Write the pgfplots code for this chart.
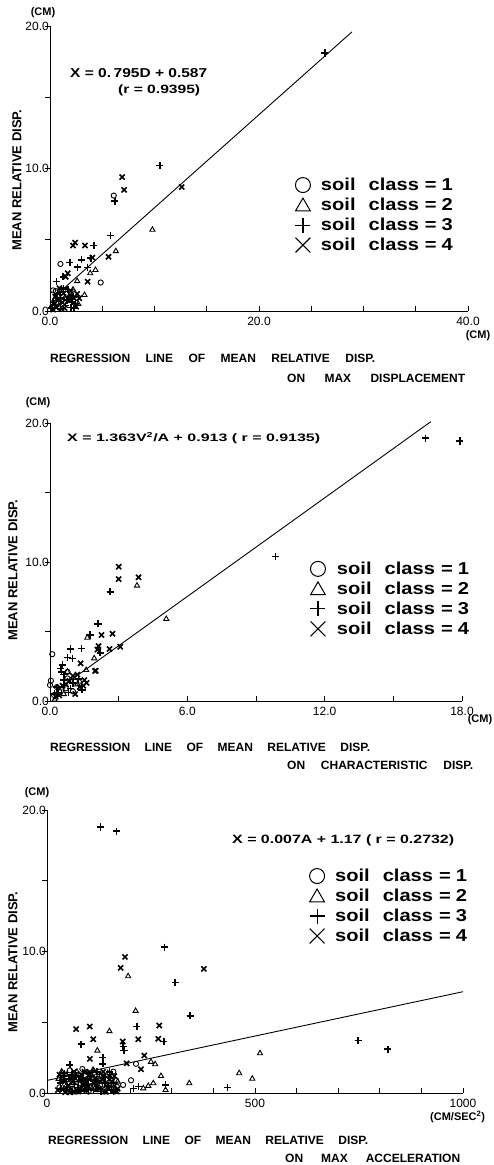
\documentclass[border=0pt]{standalone}
\usepackage{pgfplots}
\pgfplotsset{compat=1.18}
\usepackage{fontspec}
\setmainfont{Liberation Sans}

\pgfplotsset{
  soil/.style={
    scale only axis,
    axis lines=left,
    axis line style={-, line width=1pt},
    xtick align=inside, ytick align=outside,
    major tick length=5pt, minor tick length=5pt,
    every tick/.style={black, line width=0.8pt},
    ymin=0, ymax=20,
    ytick={0,10,20}, yticklabels={0.0,10.0,20.0},
    minor ytick={5,15},
    ticklabel style={font=\fontsize{12}{12}\selectfont},
    xticklabel style={inner sep=0pt, text height=8.6pt, text depth=0pt, anchor=north, yshift=-6pt},
    yticklabel style={inner sep=0pt, anchor=east, xshift=4pt},
    clip=false,
    legend cell align=left,
    legend style={draw=none, fill=none, inner sep=0pt, outer sep=0pt, anchor=north west,
      font=\bfseries\fontsize{18}{18}\selectfont, row sep=4pt,
      nodes={inner sep=0pt}},
  },
  c1/.style={only marks, black, mark=o, mark size=2.6pt, line width=0.9pt,
    legend image code/.code={\path[draw=none, fill=none] (-8pt,-8pt) rectangle (8pt,8pt);
      \draw[black, line width=1pt] plot[mark=o, mark size=7.5pt] coordinates {(0pt,0pt)};}},
  c2/.style={only marks, black, mark=triangle, mark size=3pt, line width=0.9pt,
    legend image code/.code={\path[draw=none, fill=none] (-8pt,-8pt) rectangle (8pt,8pt);
      \draw[black, line width=1pt] plot[mark=triangle, mark size=8.5pt] coordinates {(0pt,-1.5pt)};}},
  c3/.style={only marks, black, mark=+, mark size=3.6pt, line width=1.6pt,
    legend image code/.code={\path[draw=none, fill=none] (-8pt,-8pt) rectangle (8pt,8pt);
      \draw[black, line width=1.1pt] plot[mark=+, mark size=7.5pt] coordinates {(0pt,0pt)};}},
  c4/.style={only marks, black, mark=x, mark size=3.6pt, line width=1.6pt,
    legend image code/.code={\path[draw=none, fill=none] (-8pt,-8pt) rectangle (8pt,8pt);
      \draw[black, line width=1.1pt] plot[mark=x, mark size=10.5pt] coordinates {(0pt,0pt)};}},
  reg/.style={black, line width=0.9pt, forget plot},
}

\newcommand{\soilentry}[1]{\resizebox{132pt}{12.5pt}{soil\hspace{0.65em}class\hspace{0.3em}=\hspace{0.25em}#1}}

\begin{document}
\begin{tikzpicture}
\useasboundingbox (0pt,0pt) rectangle (494pt,-1165pt);

% ---------------- panel 1 ----------------
\begin{axis}[soil, at={(50pt,-311pt)}, anchor=south west, width=418pt, height=285pt,
  xmin=0, xmax=40, xtick={0,20,40}, xticklabels={0.0,20.0,40.0},
  minor xtick={5,10,15,25,30,35},
  legend style={at={(0.586,0.470)}, column sep=10pt}]
\addplot[reg] coordinates {(0.29,0.91) (28.9,19.59)};
\addplot[c1] coordinates {
 (1.0,3.3) (4.85,2.0) (6.1,8.1) (0.3,1.45) (0.55,1.4) (1.2,1.0) (0.8,0.5) (1.6,1.2) (0.2,0.3)
 (0.6,0.6) (1.9,1.0)};
\addplot[c2] coordinates {
 (9.8,5.7) (6.3,4.2) (3.85,2.65) (4.35,2.88) (2.6,2.1) (3.3,1.12) (1.9,0.7) (2.7,0.5) (0.9,0.3)
 (1.4,0.9) (0.4,0.8) (1.1,0.1) (2.2,1.5)};
\addplot[c3] coordinates {
 (26.3,18.1) (10.5,10.2) (6.2,7.7) (5.8,5.3) (4.2,4.6) (1.9,3.4) (3.0,3.6) (2.65,3.07) (0.64,2.06)
 (1.27,2.4) (3.9,3.7) (3.57,3.05) (0.3,0.6) (1.0,0.9) (1.5,0.4) (2.0,0.25) (0.7,1.2) (1.3,1.6)
 (2.2,1.0) (0.2,0.2) (2.1,0.65) (2.45,0.54) (1.0,0.15)
 (0.5,0.4) (1.6,0.75) (2.3,0.2) (0.9,1.3) (1.7,1.5)};
\addplot[c4] coordinates {
 (6.9,9.4) (7.1,8.5) (12.6,8.7) (5.6,3.8) (2.2,4.6) (2.4,4.8) (3.35,4.6) (4.05,3.75) (3.6,2.06)
 (1.7,2.65) (1.5,2.4) (2.0,1.4) (2.6,1.2) (1.2,0.6) (0.5,1.0) (1.8,0.8) (2.8,0.9) (0.9,1.6)
 (1.98,1.12) (2.3,0.89) (0.6,0.25)
 (0.3,0.1) (1.4,0.2) (2.5,0.3) (0.8,0.85) (1.3,1.25)};
\addlegendentry{\soilentry{1}}
\addlegendentry{\soilentry{2}}
\addlegendentry{\soilentry{3}}
\addlegendentry{\soilentry{4}}
\end{axis}

% ---------------- panel 2 ----------------
\begin{axis}[soil, at={(50pt,-701pt)}, anchor=south west, width=412pt, height=278pt,
  xmin=0, xmax=18, xtick={0,6,12,18}, xticklabels={0.0,6.0,12.0,18.0},
  minor xtick={3,9,15},
  legend style={at={(0.631,0.504)}, column sep=11pt}]
\addplot[reg] coordinates {(0.4,0.9) (16.64,20.1)};
\addplot[c1] coordinates {
 (0.1,3.37) (0.04,1.46) (0.76,1.63) (0.69,0.91) (0.18,0.43) (0.0,1.15) (0.4,0.7) (1.1,1.4) (0.77,2.1)
 (0.3,1.0) (1.0,0.7)};
\addplot[c2] coordinates {
 (5.08,5.9) (3.8,8.3) (1.58,2.23) (1.63,4.55) (1.93,3.07) (0.76,2.1) (0.2,0.1) (0.5,0.9) (1.2,1.2)
 (0.6,0.5) (1.3,1.4)};
\addplot[c3] coordinates {
 (16.4,18.9) (17.9,18.7) (9.86,10.4) (2.63,7.86) (2.1,5.55) (1.75,4.75) (0.9,3.74) (1.37,3.79)
 (0.76,3.14) (0.98,3.07) (0.54,2.59) (0.47,2.35) (0.51,2.1) (2.19,3.47) (0.3,1.0) (0.6,1.5)
 (1.0,1.3) (0.2,0.5) (0.8,0.6)
 (0.35,0.6) (0.9,0.9) (1.25,1.6) (0.6,1.9) (1.4,0.8)};
\addplot[c4] coordinates {
 (3.0,9.66) (3.0,8.77) (3.87,8.9) (2.25,4.75) (2.73,4.84) (3.07,3.9) (2.6,3.74) (2.07,3.7)
 (2.12,3.95) (1.97,2.16) (1.34,2.71) (2.0,2.18) (1.0,1.8) (1.3,1.0) (0.7,1.2) (1.5,1.5)
 (0.4,0.4) (1.1,0.5) (1.6,1.3)
 (0.25,0.3) (0.85,1.45) (1.2,1.9) (0.55,1.1) (1.45,1.1)};
\addlegendentry{\soilentry{1}}
\addlegendentry{\soilentry{2}}
\addlegendentry{\soilentry{3}}
\addlegendentry{\soilentry{4}}
\end{axis}

% ---------------- panel 3 ----------------
\begin{axis}[soil, at={(47pt,-1093pt)}, anchor=south west, width=416pt, height=283pt,
  xmin=0, xmax=1000, xtick={0,500,1000}, xticklabels={0,500,1000},
  minor xtick={100,200,300,400,600,700,800,900},
  legend style={at={(0.630,0.795)}, column sep=10pt}]
\addplot[reg] coordinates {(0,0.89) (1000,7.16)};
\addplot[c1] coordinates {
 (214,2.06) (202,0.9) (183,0.57) (159.5,1.51) (159.5,0.57) (120,1.2) (90,0.8) (60,0.6) (140,0.3)
 (105,0.4) (75,1.3) (130,0.9) (45,0.2)
 (30,0.4) (48,1.1) (62,0.3) (78,0.7) (92,1.2) (108,0.5) (124,1.0) (138,0.2) (150,0.6) (166,0.9)
 (55,1.6) (100,0.1) (85,1.7)
 (36,0.9) (70,1.0) (96,0.4) (115,1.3) (142,1.0) (58,0.1) (82,0.25) (128,0.55) (156,1.2) (44,0.6)
 (104,0.8) (168,0.45)};
\addplot[c2] coordinates {
 (213,5.8) (195,8.25) (150,4.37) (121,3.0) (250,2.2) (260,2.03) (274,1.2) (512,2.81) (462,1.4)
 (493.5,1.01) (342,0.69) (231.5,0.33) (243.5,0.5) (255.5,0.69) (285,0.21) (37,1.44) (110,1.6)
 (80,1.0) (150,0.8) (65,0.3)
 (28,1.0) (42,0.3) (58,0.9) (72,1.5) (88,0.4) (102,1.1) (118,0.2) (132,0.8) (146,1.4) (160,0.4)
 (35,1.5) (68,0.05) (112,1.6)
 (50,0.1) (64,0.7) (92,0.9) (126,0.35) (140,0.05) (154,1.0) (78,1.25) (108,0.3) (46,1.3) (170,0.8)
 (98,1.45) (60,1.1)};
\addplot[c3] coordinates {
 (129,18.8) (167.5,18.5) (282,10.3) (308,7.82) (344,5.46) (216,4.7) (82,3.45) (183,3.28) (185,3.0)
 (281,3.64) (134,2.5) (134,2.06) (55,1.99) (748,3.71) (819,3.1) (434,0.38) (207.5,0.33) (219.5,0.45)
 (285,0.57) (159.5,0.09) (70,1.2) (95,0.5) (120,0.7) (45,0.8) (100,1.4) (140,1.1) (60,0.1)
 (32,0.7) (46,0.2) (60,1.3) (74,0.4) (86,1.0) (98,0.6) (112,0.2) (126,1.3) (140,0.7) (155,0.2)
 (40,1.2) (80,0.15) (120,1.5)
 (34,0.3) (52,1.0) (66,0.6) (90,0.2) (104,1.2) (116,0.9) (130,0.1) (146,0.5) (160,0.7) (76,0.8)
 (42,1.4) (150,1.5)};
\addplot[c4] coordinates {
 (187.5,9.62) (177,8.84) (377,8.77) (270,4.77) (70,4.52) (103,4.7) (111,3.8) (219.5,3.8) (182,3.64)
 (267.5,3.83) (103,2.41) (234,2.65) (191.5,2.1) (226,1.68) (50,0.5) (85,0.9) (115,1.0) (65,1.5)
 (135,1.5) (95,0.2) (75,0.1) (125,0.3) (150,1.2) (170,0.3)
 (26,0.2) (38,0.9) (52,0.5) (66,1.1) (80,0.3) (94,0.8) (106,1.4) (120,0.4) (134,1.2) (148,0.3)
 (162,1.2) (56,0.05) (90,1.5)
 (30,1.3) (44,0.05) (60,0.8) (72,0.2) (86,0.6) (100,1.0) (112,0.7) (128,0.8) (142,0.1) (156,0.8)
 (168,0.1) (82,1.3)};
\addlegendentry{\soilentry{1}}
\addlegendentry{\soilentry{2}}
\addlegendentry{\soilentry{3}}
\addlegendentry{\soilentry{4}}
\end{axis}

% ---------------- texts ----------------
\begin{scope}[x=1pt, y=-1pt]
\tikzset{captxt/.style={font=\bfseries\fontsize{12}{12}\selectfont, inner sep=0pt, anchor=west},
         eqtxt/.style={font=\bfseries\fontsize{12}{12}\selectfont, inner sep=0pt, anchor=west},
         yltxt/.style={font=\bfseries\fontsize{13}{13}\selectfont, inner sep=0pt, rotate=90},
         untxt/.style={font=\bfseries\fontsize{11}{11}\selectfont, inner sep=0pt}}
% panel 1
\node[eqtxt] at (70,73) {\resizebox{137pt}{9pt}{X = 0.\,795D + 0.587}};
\node[eqtxt] at (118,90) {\resizebox*{82pt}{11.2pt}{(r = 0.9395)}};
\node[yltxt] at (17,180) {MEAN RELATIVE DISP.};
\node[untxt] at (43,13) {(CM)};
\node[untxt] at (478,336) {(CM)};
\node[captxt] at (50,358) {\makebox[325pt][s]{REGRESSION LINE OF MEAN RELATIVE DISP.}};
\node[captxt] at (287,378) {\makebox[178pt][s]{ON MAX DISPLACEMENT}};
% panel 2
\node[eqtxt] at (67,438) {\resizebox*{253pt}{11.2pt}{X = 1.363V\textsuperscript{2}/A + 0.913 ( r = 0.9135)}};
\node[yltxt] at (13,570) {MEAN RELATIVE DISP.};
\node[untxt] at (38,403) {(CM)};
\node[untxt] at (480,720) {(CM)};
\node[captxt] at (50,747) {\makebox[320pt][s]{REGRESSION LINE OF MEAN RELATIVE DISP.}};
\node[captxt] at (287,765) {\makebox[186pt][s]{ON CHARACTERISTIC DISP.}};
% panel 3
\node[eqtxt] at (232,840) {\resizebox*{222pt}{11.2pt}{X = 0.007A + 1.17 ( r = 0.2732)}};
\node[yltxt] at (13,962) {MEAN RELATIVE DISP.};
\node[untxt] at (37,793) {(CM)};
\node[untxt, anchor=west] at (430,1117) {(CM/SEC\textsuperscript{2})};
\node[captxt] at (48,1140) {\makebox[320pt][s]{REGRESSION LINE OF MEAN RELATIVE DISP.}};
\node[captxt] at (285,1158) {\makebox[175pt][s]{ON MAX ACCELERATION}};
\end{scope}
\end{tikzpicture}
\end{document}
